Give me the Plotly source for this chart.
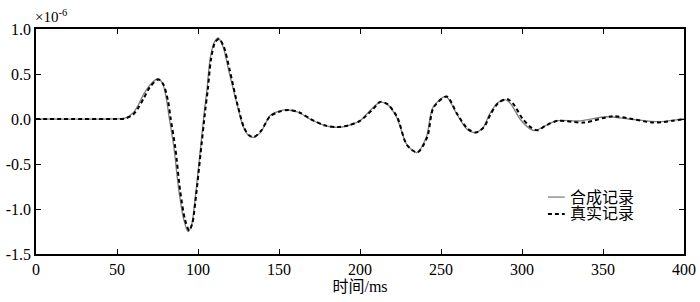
import plotly.graph_objects as go

# 合成记录 (synthetic record), time in ms, amplitude in units of 1e-6
syn_t = [0, 45, 55, 60, 63, 66, 70, 75, 78, 80.5, 82, 85, 88, 91, 93.8, 96, 98, 101,
         104, 105.5, 107.5, 110, 112.5, 115.5, 118.7, 124, 128, 131, 134.2, 139, 144.4,
         149.6, 155.8, 162, 169, 178, 185.6, 193, 200, 206, 212.3, 217, 222.6, 228.8,
         235, 241, 245, 253, 259.7, 265.9, 271, 276, 280, 285, 289.5, 293, 298.8, 305,
         308, 314, 321, 336, 352, 366, 385, 395, 400]
syn_v = [0, 0, 0.01, 0.07, 0.15, 0.26, 0.37, 0.447, 0.40, 0.22, 0.04, -0.30, -0.77,
         -1.10, -1.25, -1.18, -0.92, -0.42, 0.10, 0.32, 0.67, 0.85, 0.90, 0.80, 0.56,
         0.17, -0.09, -0.18, -0.205, -0.14, 0.037, 0.085, 0.10, 0.075, 0.0, -0.07,
         -0.094, -0.07, -0.02, 0.09, 0.186, 0.16, 0.02, -0.28, -0.373, -0.20, 0.13,
         0.25, 0.056, -0.11, -0.15, -0.094, 0.056, 0.18, 0.216, 0.17, 0.0, -0.11,
         -0.13, -0.08, -0.02, -0.02, 0.025, 0.0, -0.03, -0.01, 0.0]

# 真实记录 (real record)
real_t = [0, 45, 55, 60, 63, 66.5, 70.5, 75.5, 78.5, 81.5, 83, 86, 89, 92, 94.5, 96.5,
          98.5, 101.5, 104.5, 106, 108, 110.5, 113, 116, 119.5, 124.5, 128.5, 131.5,
          134.5, 139, 144.5, 150, 156, 163, 169.5, 178, 186, 193, 200, 208, 212.5, 217,
          223, 229, 235.5, 241.5, 245.5, 253.5, 260, 266.5, 271.5, 276.5, 280.5, 285.5,
          291, 294.5, 300.5, 306, 309.5, 315, 322, 338, 356, 368, 381, 393, 400]
real_v = [0, 0, 0.005, 0.05, 0.12, 0.23, 0.36, 0.44, 0.39, 0.20, 0.02, -0.32, -0.80,
          -1.12, -1.24, -1.16, -0.90, -0.40, 0.10, 0.32, 0.66, 0.85, 0.89, 0.80, 0.55,
          0.15, -0.10, -0.18, -0.20, -0.13, 0.03, 0.08, 0.10, 0.07, 0.0, -0.07, -0.09,
          -0.07, -0.02, 0.11, 0.19, 0.165, 0.02, -0.29, -0.37, -0.20, 0.13, 0.25,
          0.055, -0.11, -0.15, -0.09, 0.05, 0.18, 0.22, 0.17, 0.0, -0.10, -0.125,
          -0.07, -0.02, -0.04, 0.03, 0.0, -0.04, -0.02, 0.0]

x_ticks = [0, 50, 100, 150, 200, 250, 300, 350, 400]
y_ticks = [-1.5, -1.0, -0.5, 0.0, 0.5, 1.0]
series_names = ["合成记录", "真实记录"]

FONT = "Liberation Serif"
CJK = "Liberation Serif, Noto Sans CJK SC"

fig = go.Figure()
fig.add_trace(go.Scatter(x=syn_t, y=syn_v, mode="lines", name=series_names[0], showlegend=False,
                         line=dict(color="#808080", width=1.3, shape="spline", smoothing=0.8)))
fig.add_trace(go.Scatter(x=real_t, y=real_v, mode="lines", name=series_names[1], showlegend=False,
                         line=dict(color="black", width=2, dash="4px,3px", shape="spline", smoothing=0.8)))

axis_common = dict(showline=True, linecolor="black", linewidth=1.5, mirror="ticks",
                   ticks="inside", ticklen=5, tickwidth=1, tickcolor="black",
                   showgrid=False, zeroline=False, automargin=False,
                   tickfont=dict(family=FONT, size=16, color="black"))

fig.update_xaxes(range=[0, 400], tickvals=x_ticks, ticktext=[str(v) for v in x_ticks],
                 title=dict(text="时间/ms", font=dict(family=CJK, size=16, color="black"), standoff=0),
                 **axis_common)
fig.update_yaxes(range=[-1.5, 1.0], tickvals=y_ticks, ticktext=[f"{v:.1f}" for v in y_ticks],
                 **axis_common)

fig.add_annotation(xref="paper", yref="paper", x=0.0, y=1.0, xanchor="left", yanchor="bottom",
                   text="×10<sup>-6</sup>", showarrow=False,
                   font=dict(family=FONT, size=15, color="black"), xshift=-3, yshift=2)

# manual legend (short line samples as in the reference)
leg_x0, leg_x1, leg_tx = 0.790, 0.816, 0.821
leg_y = [0.253, 0.178]
fig.add_shape(type="line", xref="paper", yref="paper", x0=leg_x0, x1=leg_x1, y0=leg_y[0], y1=leg_y[0],
              line=dict(color="#808080", width=1.3))
fig.add_shape(type="line", xref="paper", yref="paper", x0=leg_x0, x1=leg_x1, y0=leg_y[1], y1=leg_y[1],
              line=dict(color="black", width=2, dash="4px,3px"))
for name, yy in zip(series_names, leg_y):
    fig.add_annotation(xref="paper", yref="paper", x=leg_tx, y=yy, xanchor="left", yanchor="middle",
                       text=name, showarrow=False, font=dict(family=CJK, size=16, color="black"))

fig.update_layout(
    width=700, height=302,
    margin=dict(l=36, r=16, t=29, b=48),
    plot_bgcolor="white", paper_bgcolor="white",
    font=dict(family=FONT, size=16, color="black"),
    showlegend=False,
)

fig.write_html("out.html", config={"displayModeBar": False},
               post_script="document.body.style.margin='0';document.body.style.overflow='hidden';")
